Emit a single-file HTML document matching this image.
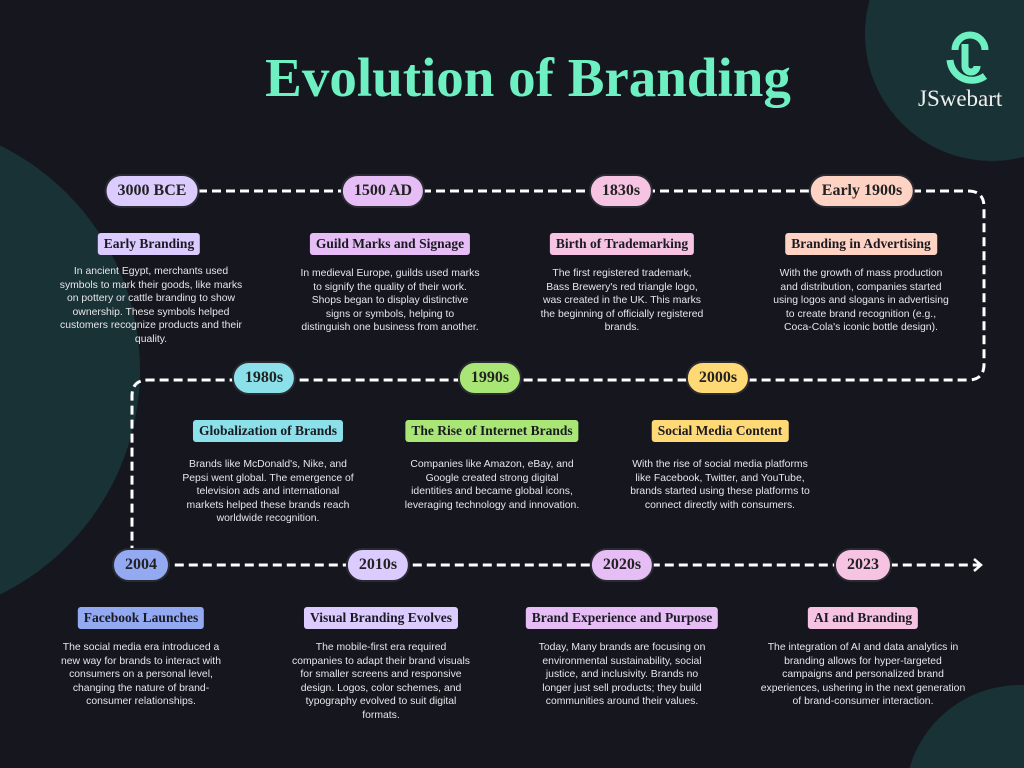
<!DOCTYPE html>
<html style="overflow:hidden;height:768px"><head><meta charset="utf-8"><style>
*{margin:0;padding:0;box-sizing:border-box}
body{width:1024px;height:768px;background:#16161e;position:relative;overflow:hidden;font-family:"Liberation Sans",sans-serif}
.c{position:absolute;border-radius:50%;background:#193236}
.pill{position:absolute;transform:translate(-50%,-50%);height:34px;line-height:30px;padding:0 11px;border-radius:17px;border:2px solid #2a2a33;font-family:"Liberation Serif",serif;font-weight:bold;font-size:16px;color:#222;white-space:nowrap}
.h{position:absolute;transform:translateX(-50%);height:22px;line-height:22px;padding:0 6px;border-radius:3px;font-family:"Liberation Serif",serif;font-weight:bold;font-size:13.5px;color:#1a1a22;white-space:nowrap}
.d{position:absolute;transform:translateX(-50%);width:180px;text-align:center;color:#e6e6ea;font-size:10.4px;line-height:13.5px}
</style></head><body>
<div class="c" style="left:-360px;top:120px;width:500px;height:500px"></div>
<div class="c" style="left:865px;top:-93px;width:254px;height:254px"></div>
<div class="c" style="left:905px;top:685px;width:230px;height:230px"></div>
<svg style="position:absolute;left:0;top:0" width="1024" height="768">
<g fill="none" stroke="#fff" stroke-width="3" stroke-dasharray="9 5">
<path d="M198 191 H968 Q984 191 984 207 V364 Q984 380 968 380 H148 Q132 380 132 396 V549 Q132 565 148 565 H980"/>
</g>
<path d="M974 559 L981 565 L974 571" fill="none" stroke="#fff" stroke-width="2.5"/>
<g fill="none" stroke="#6ef0c3" stroke-width="7">
<path d="M950 60 A22 22 0 0 0 985 76"/>
<path d="M955 50 A14 14 0 0 1 985 50"/>
<path d="M965 44 V66 A6 6 0 0 0 977 66"/>
</g>
</svg>
<div style="position:absolute;left:918px;top:86px;font-family:'Liberation Serif',serif;font-size:23px;color:#f0f0f0">JSwebart</div>
<div style="position:absolute;left:0;width:1056px;top:46px;text-align:center;font-family:'Liberation Serif',serif;font-weight:bold;font-size:55px;color:#6ef0c3">Evolution of Branding</div>

<div class="pill" style="left:152px;top:191px;background:#dccbff">3000 BCE</div>
<div class="pill" style="left:383px;top:191px;background:#e6bdf5">1500 AD</div>
<div class="pill" style="left:621px;top:191px;background:#f7c3e3">1830s</div>
<div class="pill" style="left:862px;top:191px;background:#ffd3c4">Early 1900s</div>
<div class="pill" style="left:264px;top:378px;background:#8be0ea">1980s</div>
<div class="pill" style="left:490px;top:378px;background:#a9e676">1990s</div>
<div class="pill" style="left:718px;top:378px;background:#ffd976">2000s</div>
<div class="pill" style="left:141px;top:565px;background:#93aaf2">2004</div>
<div class="pill" style="left:378px;top:565px;background:#dccbff">2010s</div>
<div class="pill" style="left:622px;top:565px;background:#e6bdf5">2020s</div>
<div class="pill" style="left:863px;top:565px;background:#f7c3e3">2023</div>

<div class="h" style="left:149px;top:233px;background:#dccbff">Early Branding</div>
<div class="h" style="left:390px;top:233px;background:#e6bdf5">Guild Marks and Signage</div>
<div class="h" style="left:622px;top:233px;background:#f7c3e3">Birth of Trademarking</div>
<div class="h" style="left:861px;top:233px;background:#ffd3c4">Branding in Advertising</div>
<div class="h" style="left:268px;top:420px;background:#8be0ea">Globalization of Brands</div>
<div class="h" style="left:492px;top:420px;background:#a9e676">The Rise of Internet Brands</div>
<div class="h" style="left:720px;top:420px;background:#ffd976">Social Media Content</div>
<div class="h" style="left:141px;top:607px;background:#93aaf2">Facebook Launches</div>
<div class="h" style="left:381px;top:607px;background:#dccbff">Visual Branding Evolves</div>
<div class="h" style="left:622px;top:607px;background:#e6bdf5">Brand Experience and Purpose</div>
<div class="h" style="left:863px;top:607px;background:#f7c3e3">AI and Branding</div>

<div class="d" style="left:151px;top:265px;width:190px">In ancient Egypt, merchants used symbols to mark their goods, like marks on pottery or cattle branding to show ownership. These symbols helped customers recognize products and their quality.</div>
<div class="d" style="left:390px;top:267px">In medieval Europe, guilds used marks to signify the quality of their work. Shops began to display distinctive signs or symbols, helping to distinguish one business from another.</div>
<div class="d" style="left:622px;top:267px;width:165px">The first registered trademark, Bass Brewery's red triangle logo, was created in the UK. This marks the beginning of officially registered brands.</div>
<div class="d" style="left:861px;top:267px">With the growth of mass production and distribution, companies started using logos and slogans in advertising to create brand recognition (e.g., Coca-Cola's iconic bottle design).</div>
<div class="d" style="left:268px;top:458px;width:175px">Brands like McDonald's, Nike, and Pepsi went global. The emergence of television ads and international markets helped these brands reach worldwide recognition.</div>
<div class="d" style="left:492px;top:458px;width:175px">Companies like Amazon, eBay, and Google created strong digital identities and became global icons, leveraging technology and innovation.</div>
<div class="d" style="left:720px;top:458px;width:180px">With the rise of social media platforms like Facebook, Twitter, and YouTube, brands started using these platforms to connect directly with consumers.</div>
<div class="d" style="left:141px;top:641px;width:175px">The social media era introduced a new way for brands to interact with consumers on a personal level, changing the nature of brand-consumer relationships.</div>
<div class="d" style="left:381px;top:641px;width:180px">The mobile-first era required companies to adapt their brand visuals for smaller screens and responsive design. Logos, color schemes, and typography evolved to suit digital formats.</div>
<div class="d" style="left:622px;top:641px;width:170px">Today, Many brands are focusing on environmental sustainability, social justice, and inclusivity. Brands no longer just sell products; they build communities around their values.</div>
<div class="d" style="left:863px;top:641px;width:210px">The integration of AI and data analytics in branding allows for hyper-targeted campaigns and personalized brand experiences, ushering in the next generation of brand-consumer interaction.</div>
</body></html>
